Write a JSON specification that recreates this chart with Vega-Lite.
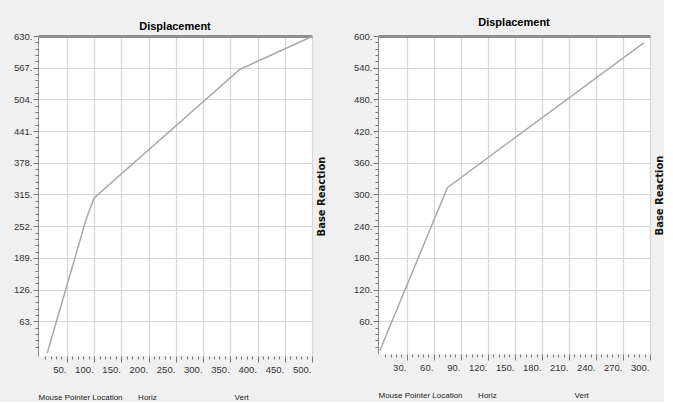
{
  "$schema": "https://vega.github.io/schema/vega-lite/v6.json",
  "padding": {"left": 10, "top": 17, "right": 0, "bottom": 0},
  "spacing": 24,
  "hconcat": [
    {
      "width": 274,
      "height": 320,
      "title": {"text": "Displacement", "offset": -1},
      "data": {"values": [
        {"disp": 14, "base": 0},
        {"disp": 86, "base": 268},
        {"disp": 100, "base": 308},
        {"disp": 368, "base": 564},
        {"disp": 500, "base": 629}
      ]},
      "layer": [
        {
          "mark": {"type": "line", "color": "#a8a8a8", "strokeWidth": 1.5},
          "encoding": {
            "x": {"field": "disp", "type": "quantitative",
              "scale": {"domain": [-3, 500], "nice": false, "zero": false},
              "axis": {"orient": "bottom", "domain": false,
                "values": [10,20,30,40,50,60,70,80,90,100,110,120,130,140,150,160,170,180,190,200,210,220,230,240,250,260,270,280,290,300,310,320,330,340,350,360,370,380,390,400,410,420,430,440,450,460,470,480,490,500],
                "labelExpr": "datum.value % 50 == 0 ? datum.value + '.' : ''",
                "labelAlign": "right", "labelOffset": -1, "labelPadding": 2,
                "tickSize": {"condition": {"test": "datum.value % 50 == 0", "value": 6}, "value": 3},
                "grid": true,
                "gridOpacity": {"condition": {"test": "datum.value % 50 == 0", "value": 1}, "value": 0},
                "title": "Mouse Pointer Location\u00a0\u00a0\u00a0\u00a0\u00a0\u00a0\u00a0Horiz\u00a0\u00a0\u00a0\u00a0\u00a0\u00a0\u00a0\u00a0\u00a0\u00a0\u00a0\u00a0\u00a0\u00a0\u00a0\u00a0\u00a0\u00a0\u00a0\u00a0\u00a0\u00a0\u00a0\u00a0\u00a0\u00a0\u00a0\u00a0\u00a0\u00a0\u00a0\u00a0\u00a0\u00a0\u00a0Vert",
                "titleAnchor": "start", "titleAlign": "left", "titlePadding": 20}},
            "y": {"field": "base", "type": "quantitative",
              "scale": {"domain": [-6, 630], "nice": false, "zero": false},
              "axis": {"orient": "left", "minExtent": 28, "maxExtent": 28,
                "values": [12.6,25.2,37.8,50.4,63,75.6,88.2,100.8,113.4,126,138.6,151.2,163.8,176.4,189,201.6,214.2,226.8,239.4,252,264.6,277.2,289.8,302.4,315,327.6,340.2,352.8,365.4,378,390.6,403.2,415.8,428.4,441,453.6,466.2,478.8,491.4,504,516.6,529.2,541.8,554.4,567,579.6,592.2,604.8,617.4,630],
                "labelExpr": "abs(datum.value/63 - round(datum.value/63)) < 0.001 ? round(datum.value) + '.' : ''",
                "labelPadding": 1,
                "tickSize": {"condition": {"test": "abs(datum.value/63 - round(datum.value/63)) < 0.001", "value": 5}, "value": 3},
                "grid": true,
                "gridOpacity": {"condition": {"test": "abs(datum.value/63 - round(datum.value/63)) < 0.001", "value": 1}, "value": 0},
                "title": null}}
          }
        },
        {
          "mark": {"type": "line", "strokeOpacity": 0},
          "encoding": {
            "x": {"field": "disp", "type": "quantitative",
              "axis": {"orient": "top", "labels": false, "ticks": false, "grid": false, "domainWidth": 3, "domainColor": "#8f8f8f", "title": null, "minExtent": 0, "maxExtent": 0}},
            "y": {"field": "base", "type": "quantitative",
              "axis": {"orient": "right", "labels": false, "ticks": false, "grid": false, "domain": false,
                "title": "Base Reaction", "titleAngle": 270, "titleBaseline": "top", "titlePadding": 4}}
          }
        }
      ],
      "resolve": {"axis": {"x": "independent", "y": "independent"}}
    },
    {
      "width": 272,
      "height": 318,
      "title": {"text": "Displacement", "offset": 3},
      "data": {"values": [
        {"disp": 0, "base": 4},
        {"disp": 75, "base": 313},
        {"disp": 293, "base": 587}
      ]},
      "layer": [
        {
          "mark": {"type": "line", "color": "#a8a8a8", "strokeWidth": 1.5},
          "encoding": {
            "x": {"field": "disp", "type": "quantitative",
              "scale": {"domain": [-2, 300], "nice": false, "zero": false},
              "axis": {"orient": "bottom", "domain": false,
                "values": [6,12,18,24,30,36,42,48,54,60,66,72,78,84,90,96,102,108,114,120,126,132,138,144,150,156,162,168,174,180,186,192,198,204,210,216,222,228,234,240,246,252,258,264,270,276,282,288,294,300],
                "labelExpr": "datum.value % 30 == 0 ? datum.value + '.' : ''",
                "labelAlign": "right", "labelOffset": -1, "labelPadding": 2,
                "tickSize": {"condition": {"test": "datum.value % 30 == 0", "value": 6}, "value": 3},
                "grid": true,
                "gridOpacity": {"condition": {"test": "datum.value % 30 == 0", "value": 1}, "value": 0},
                "title": "Mouse Pointer Location\u00a0\u00a0\u00a0\u00a0\u00a0\u00a0\u00a0Horiz\u00a0\u00a0\u00a0\u00a0\u00a0\u00a0\u00a0\u00a0\u00a0\u00a0\u00a0\u00a0\u00a0\u00a0\u00a0\u00a0\u00a0\u00a0\u00a0\u00a0\u00a0\u00a0\u00a0\u00a0\u00a0\u00a0\u00a0\u00a0\u00a0\u00a0\u00a0\u00a0\u00a0\u00a0\u00a0Vert",
                "titleAnchor": "start", "titleAlign": "left", "titlePadding": 20}},
            "y": {"field": "base", "type": "quantitative",
              "scale": {"domain": [-2, 600], "nice": false, "zero": false},
              "axis": {"orient": "left", "minExtent": 28, "maxExtent": 28,
                "values": [12,24,36,48,60,72,84,96,108,120,132,144,156,168,180,192,204,216,228,240,252,264,276,288,300,312,324,336,348,360,372,384,396,408,420,432,444,456,468,480,492,504,516,528,540,552,564,576,588,600],
                "labelExpr": "datum.value % 60 == 0 ? datum.value + '.' : ''",
                "labelPadding": 1,
                "tickSize": {"condition": {"test": "datum.value % 60 == 0", "value": 5}, "value": 3},
                "grid": true,
                "gridOpacity": {"condition": {"test": "datum.value % 60 == 0", "value": 1}, "value": 0},
                "title": null}}
          }
        },
        {
          "mark": {"type": "line", "strokeOpacity": 0},
          "encoding": {
            "x": {"field": "disp", "type": "quantitative",
              "axis": {"orient": "top", "labels": false, "ticks": false, "grid": false, "domainWidth": 3, "domainColor": "#8f8f8f", "title": null, "minExtent": 0, "maxExtent": 0}},
            "y": {"field": "base", "type": "quantitative",
              "axis": {"orient": "right", "labels": false, "ticks": false, "grid": false, "domain": false,
                "title": "Base Reaction", "titleAngle": 270, "titleBaseline": "top", "titlePadding": 4}}
          }
        }
      ],
      "resolve": {"axis": {"x": "independent", "y": "independent"}}
    }
  ],
  "config": {
    "background": "#f0f0f0",
    "view": {"stroke": null, "fill": "#ffffff"},
    "title": {"font": "Liberation Sans", "fontSize": 11, "fontWeight": "bold", "color": "#000000", "anchor": "middle"},
    "axis": {
      "labelFont": "Liberation Sans", "labelFontSize": 9.5, "labelColor": "#333333",
      "tickColor": "#777777", "domainColor": "#8a8a8a", "domainWidth": 1,
      "gridColor": "#d6d6d6", "gridWidth": 1.2,
      "titleFont": "Liberation Sans", "titleFontSize": 8, "titleFontWeight": "normal", "titleColor": "#222222"
    },
    "axisRight": {"titleFont": "DejaVu Sans", "titleFontSize": 10, "titleFontWeight": "bold", "titleColor": "#111111"}
  }
}
